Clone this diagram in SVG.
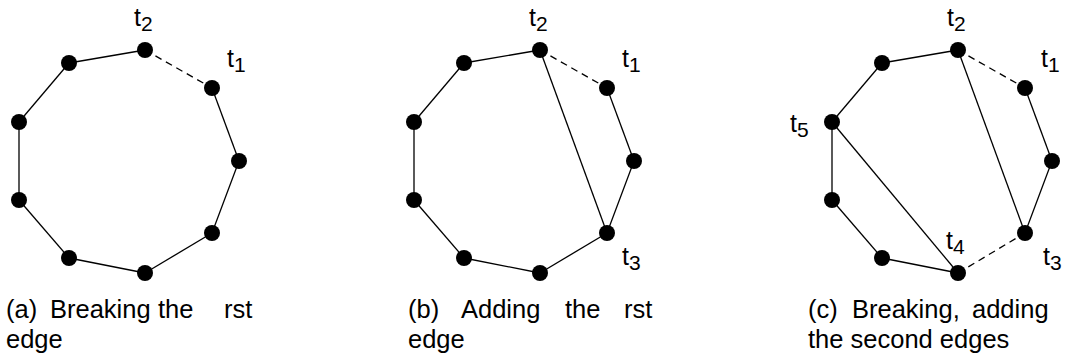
<svg xmlns="http://www.w3.org/2000/svg" width="1067" height="360" viewBox="0 0 1067 360">
<style>
.e{stroke:#000;stroke-width:1.3;fill:none}
.d{stroke:#000;stroke-width:1.3;fill:none;stroke-dasharray:7 5}
.n{fill:#000}
.lb{font-family:"Liberation Sans",Arial,sans-serif;font-size:25px;fill:#000}
.sb{font-size:21px}
.cap{font-family:"Liberation Sans",Arial,sans-serif;font-size:25.5px;fill:#000}
</style>
<rect width="1067" height="360" fill="#fff"/>
<g id="connectors">
<line class="e" x1="145" y1="50" x2="69" y2="63"/>
<line class="e" x1="69" y1="63" x2="19" y2="122"/>
<line class="e" x1="19" y1="122" x2="19" y2="200"/>
<line class="e" x1="19" y1="200" x2="69" y2="258"/>
<line class="e" x1="69" y1="258" x2="145" y2="273"/>
<line class="e" x1="145" y1="273" x2="212" y2="233"/>
<line class="e" x1="212" y1="233" x2="239" y2="161"/>
<line class="e" x1="239" y1="161" x2="212" y2="88"/>
<line class="d" x1="145" y1="50" x2="212" y2="88"/>
<line class="e" x1="540" y1="50" x2="464" y2="63"/>
<line class="e" x1="464" y1="63" x2="414" y2="122"/>
<line class="e" x1="414" y1="122" x2="414" y2="200"/>
<line class="e" x1="414" y1="200" x2="464" y2="258"/>
<line class="e" x1="464" y1="258" x2="540" y2="273"/>
<line class="e" x1="540" y1="273" x2="607" y2="233"/>
<line class="e" x1="607" y1="233" x2="634" y2="161"/>
<line class="e" x1="634" y1="161" x2="607" y2="88"/>
<line class="d" x1="540" y1="50" x2="607" y2="88"/>
<line class="e" x1="540" y1="50" x2="607" y2="233"/>
<line class="e" x1="958" y1="50" x2="882" y2="63"/>
<line class="e" x1="882" y1="63" x2="832" y2="122"/>
<line class="e" x1="832" y1="122" x2="832" y2="200"/>
<line class="e" x1="832" y1="200" x2="882" y2="258"/>
<line class="e" x1="882" y1="258" x2="958" y2="273"/>
<line class="d" x1="958" y1="273" x2="1025" y2="233"/>
<line class="e" x1="1025" y1="233" x2="1052" y2="161"/>
<line class="e" x1="1052" y1="161" x2="1025" y2="88"/>
<line class="d" x1="958" y1="50" x2="1025" y2="88"/>
<line class="e" x1="958" y1="50" x2="1025" y2="233"/>
<line class="e" x1="832" y1="122" x2="958" y2="273"/>
</g>
<g id="a-t2"><circle class="n" cx="145" cy="50" r="8"/><text class="lb" x="134" y="26">t<tspan class="sb" dy="5">2</tspan></text></g>
<g id="a-n2"><circle class="n" cx="69" cy="63" r="8"/></g>
<g id="a-n3"><circle class="n" cx="19" cy="122" r="8"/></g>
<g id="a-n4"><circle class="n" cx="19" cy="200" r="8"/></g>
<g id="a-n5"><circle class="n" cx="69" cy="258" r="8"/></g>
<g id="a-n6"><circle class="n" cx="145" cy="273" r="8"/></g>
<g id="a-n7"><circle class="n" cx="212" cy="233" r="8"/></g>
<g id="a-n8"><circle class="n" cx="239" cy="161" r="8"/></g>
<g id="a-t1"><circle class="n" cx="212" cy="88" r="8"/><text class="lb" x="227" y="67">t<tspan class="sb" dy="5">1</tspan></text></g>

<g id="b-t2"><circle class="n" cx="540" cy="50" r="8"/><text class="lb" x="529" y="26">t<tspan class="sb" dy="5">2</tspan></text></g>
<g id="b-n2"><circle class="n" cx="464" cy="63" r="8"/></g>
<g id="b-n3"><circle class="n" cx="414" cy="122" r="8"/></g>
<g id="b-n4"><circle class="n" cx="414" cy="200" r="8"/></g>
<g id="b-n5"><circle class="n" cx="464" cy="258" r="8"/></g>
<g id="b-n6"><circle class="n" cx="540" cy="273" r="8"/></g>
<g id="b-t3"><circle class="n" cx="607" cy="233" r="8"/><text class="lb" x="622" y="265">t<tspan class="sb" dy="5">3</tspan></text></g>
<g id="b-n8"><circle class="n" cx="634" cy="161" r="8"/></g>
<g id="b-t1"><circle class="n" cx="607" cy="88" r="8"/><text class="lb" x="622" y="67">t<tspan class="sb" dy="5">1</tspan></text></g>

<g id="c-t2"><circle class="n" cx="958" cy="50" r="8"/><text class="lb" x="947" y="26">t<tspan class="sb" dy="5">2</tspan></text></g>
<g id="c-n2"><circle class="n" cx="882" cy="63" r="8"/></g>
<g id="c-t5"><circle class="n" cx="832" cy="122" r="8"/><text class="lb" x="790" y="132">t<tspan class="sb" dy="5">5</tspan></text></g>
<g id="c-n4"><circle class="n" cx="832" cy="200" r="8"/></g>
<g id="c-n5"><circle class="n" cx="882" cy="258" r="8"/></g>
<g id="c-t4"><circle class="n" cx="958" cy="273" r="8"/><text class="lb" x="946" y="249">t<tspan class="sb" dy="5">4</tspan></text></g>
<g id="c-t3"><circle class="n" cx="1025" cy="233" r="8"/><text class="lb" x="1043" y="265">t<tspan class="sb" dy="5">3</tspan></text></g>
<g id="c-n8"><circle class="n" cx="1052" cy="161" r="8"/></g>
<g id="c-t1"><circle class="n" cx="1025" cy="88" r="8"/><text class="lb" x="1041" y="67">t<tspan class="sb" dy="5">1</tspan></text></g>

<g id="captions">
<text class="cap" y="318"><tspan x="6">(a)</tspan><tspan x="50">Breaking</tspan><tspan x="158">the</tspan><tspan x="224">rst</tspan></text>
<text class="cap" x="6" y="348">edge</text>
<text class="cap" y="318"><tspan x="408">(b)</tspan><tspan x="461">Adding</tspan><tspan x="565">the</tspan><tspan x="624">rst</tspan></text>
<text class="cap" x="408" y="348">edge</text>
<text class="cap" y="318"><tspan x="808">(c)</tspan><tspan x="852">Breaking,</tspan><tspan x="972">adding</tspan></text>
<text class="cap" x="808" y="348">the second edges</text>
</g>
</svg>
